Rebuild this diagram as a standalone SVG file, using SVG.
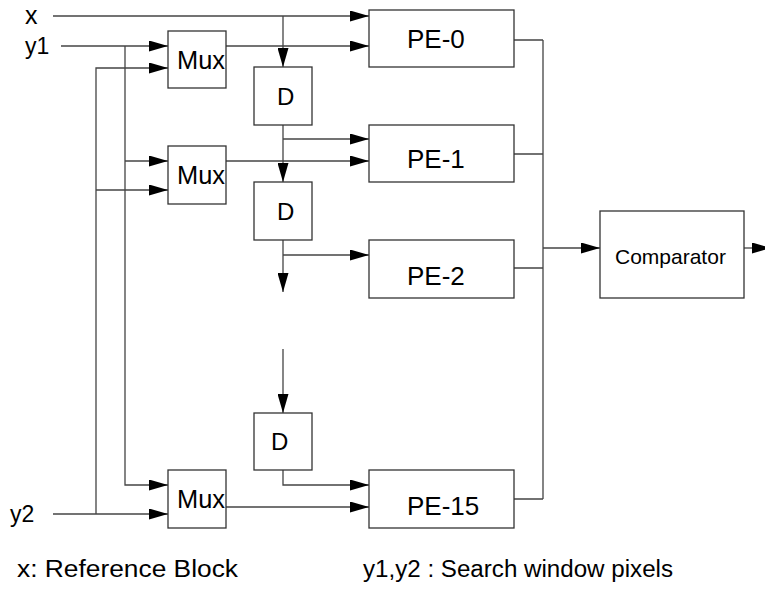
<svg xmlns="http://www.w3.org/2000/svg" width="765" height="592" viewBox="0 0 765 592">
<defs>
<marker id="arr" markerUnits="userSpaceOnUse" viewBox="0 0 19 11" refX="19" refY="5.5" markerWidth="19" markerHeight="11" orient="auto">
<path d="M0,0 L19,5.5 L0,11 z" fill="#000"/>
</marker>
<style>
.box{fill:#fff;stroke:#333;stroke-width:1.3}
.ln{fill:none;stroke:#444;stroke-width:1.3}
.a{marker-end:url(#arr)}
text{font-family:"Liberation Sans",Arial,sans-serif;fill:#000}
.lbl{font-size:26px}
.d{font-size:24px}
</style>
</defs>
<rect width="765" height="592" fill="#fff"/>
<g id="connectors">
<path class="ln a" d="M53,16 H369"/>
<path class="ln a" d="M283,16 V67"/>
<path class="ln a" d="M61,46 H168"/>
<path class="ln a" d="M125,46 V485 H168"/>
<path class="ln a" d="M125,161 H168"/>
<path class="ln a" d="M96,514 V68 H168"/>
<path class="ln a" d="M96,190 H168"/>
<path class="ln a" d="M53,514 H168"/>
<path class="ln a" d="M226,46 H369"/>
<path class="ln a" d="M226,161 H369"/>
<path class="ln a" d="M226,507 H369"/>
<path class="ln a" d="M283,125 V182"/>
<path class="ln a" d="M283,139 H369"/>
<path class="ln a" d="M283,240 V292"/>
<path class="ln a" d="M283,255 H369"/>
<path class="ln a" d="M283,349 V413"/>
<path class="ln a" d="M283,470 V485 H369"/>
<path class="ln" d="M514,40 H543 M514,154 H543 M514,268 H543 M514,499 H543 M543,40 V499"/>
<path class="ln a" d="M543,248 H600"/>
<path class="ln a" d="M744,248 H771"/>
</g>
<g id="mux1"><rect class="box" x="168" y="31" width="58" height="57"/><text class="lbl" x="177" y="69" textLength="48" lengthAdjust="spacingAndGlyphs">Mux</text></g>
<g id="mux2"><rect class="box" x="168" y="146" width="58" height="58"/><text class="lbl" x="177" y="184" textLength="48" lengthAdjust="spacingAndGlyphs">Mux</text></g>
<g id="mux3"><rect class="box" x="168" y="470" width="58" height="58"/><text class="lbl" x="177" y="508" textLength="48" lengthAdjust="spacingAndGlyphs">Mux</text></g>
<g id="d1"><rect class="box" x="254" y="67" width="58" height="58"/><text class="d" x="277" y="105">D</text></g>
<g id="d2"><rect class="box" x="254" y="182" width="58" height="58"/><text class="d" x="277" y="220">D</text></g>
<g id="d3"><rect class="box" x="254" y="413" width="58" height="57"/><text class="d" x="271" y="450">D</text></g>
<g id="pe0"><rect class="box" x="369" y="10" width="145" height="57"/><text class="lbl" x="407" y="48">PE-0</text></g>
<g id="pe1"><rect class="box" x="369" y="125" width="145" height="57"/><text class="lbl" x="407" y="168">PE-1</text></g>
<g id="pe2"><rect class="box" x="369" y="240" width="145" height="58"/><text class="lbl" x="407" y="285">PE-2</text></g>
<g id="pe15"><rect class="box" x="369" y="470" width="145" height="58"/><text class="lbl" x="407" y="515">PE-15</text></g>
<g id="comparator"><rect class="box" x="600" y="211" width="144" height="87"/><text x="615" y="264" font-size="21">Comparator</text></g>
<g id="labels">
<text x="25" y="24" font-size="25">x</text>
<text x="25" y="54" font-size="23">y1</text>
<text x="10" y="522" font-size="23">y2</text>
<text x="17" y="577" font-size="23" textLength="221" lengthAdjust="spacingAndGlyphs">x: Reference Block</text>
<text x="363" y="577" font-size="23" textLength="310" lengthAdjust="spacingAndGlyphs">y1,y2 : Search window pixels</text>
</g>
</svg>
